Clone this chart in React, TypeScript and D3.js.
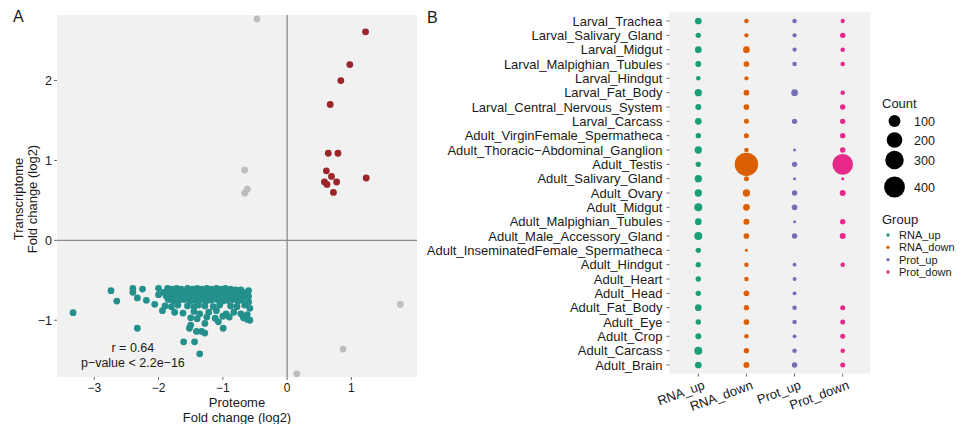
import React, { useEffect, useRef } from 'react';
import * as d3 from 'd3';

// ---- panel A data: proteome vs transcriptome fold change (log2) ----
const upPoints = [
  [1.22, 2.61], [0.975, 2.2], [0.835, 2.0], [0.67, 1.7], [0.64, 1.09], [0.79, 1.09],
  [0.61, 0.87], [0.69, 0.8], [0.58, 0.73], [0.62, 0.7], [0.77, 0.73], [0.72, 0.6], [1.23, 0.78],
];

const otherPoints = [
  [-0.47, 2.77], [-0.66, 0.88], [-0.62, 0.64], [-0.66, 0.59], [1.76, -0.8], [0.87, -1.36], [0.15, -1.67],
];

const downPoints = [
  [-2.4, -0.6], [-2.25, -0.61], [-2.0, -0.6], [-1.86, -0.6], [-1.8, -0.61], [-1.72, -0.6], [-1.65, -0.61],
  [-1.55, -0.6], [-1.47, -0.61], [-1.4, -0.6], [-1.33, -0.61], [-1.25, -0.6], [-1.18, -0.61], [-1.1, -0.6],
  [-1.03, -0.61], [-0.96, -0.6], [-0.88, -0.61], [-0.8, -0.62], [-0.72, -0.62],
  [-2.74, -0.63], [-2.4, -0.65], [-1.92, -0.65], [-1.83, -0.66], [-1.76, -0.64], [-1.69, -0.66], [-1.6, -0.65],
  [-1.52, -0.66], [-1.44, -0.64], [-1.37, -0.66], [-1.3, -0.65], [-1.22, -0.66], [-1.15, -0.64], [-1.07, -0.66],
  [-0.99, -0.65], [-0.92, -0.66], [-0.84, -0.64], [-0.76, -0.66], [-0.68, -0.65], [-0.6, -0.63],
  [-2.0, -0.68], [-1.88, -0.7], [-1.79, -0.71], [-1.71, -0.69], [-1.63, -0.71], [-1.57, -0.7], [-1.49, -0.69],
  [-1.42, -0.71], [-1.35, -0.7], [-1.27, -0.69], [-1.2, -0.71], [-1.12, -0.7], [-1.04, -0.69], [-0.97, -0.71],
  [-0.9, -0.7], [-0.82, -0.69], [-0.74, -0.71], [-0.66, -0.7], [-0.6, -0.7],
  [-2.65, -0.76], [-2.33, -0.72], [-2.19, -0.75], [-1.85, -0.74], [-1.77, -0.76], [-1.68, -0.75], [-1.6, -0.74],
  [-1.51, -0.76], [-1.43, -0.75], [-1.34, -0.74], [-1.26, -0.76], [-1.18, -0.75], [-1.09, -0.74], [-1.0, -0.76],
  [-0.93, -0.75], [-0.85, -0.74], [-0.77, -0.76], [-0.7, -0.75], [-0.6, -0.77],
  [-2.06, -0.8], [-1.9, -0.82], [-1.8, -0.83], [-1.7, -0.81], [-1.55, -0.82], [-1.45, -0.83], [-1.38, -0.81],
  [-1.28, -0.82], [-1.15, -0.83], [-1.05, -0.81], [-0.88, -0.82], [-0.78, -0.83], [-0.66, -0.81], [-0.58, -0.85],
  [-1.94, -0.88], [-1.75, -0.9], [-1.62, -0.91], [-1.45, -0.89], [-1.36, -0.92], [-1.22, -0.9], [-1.1, -0.88],
  [-0.95, -0.92], [-0.83, -0.9], [-0.72, -0.92], [-0.62, -0.93],
  [-1.5, -0.97], [-1.4, -0.98], [-1.25, -0.96], [-1.12, -0.975], [-1.0, -0.95], [-0.9, -0.96], [-0.68, -0.97],
  [-0.62, -0.99], [-0.58, -1.0],
  [-1.5, -1.06], [-1.28, -1.04], [-1.07, -1.02], [-0.995, -1.1], [-1.41, -1.14], [-1.33, -1.14], [-1.28, -1.16],
  [-1.61, -1.27], [-1.44, -1.27], [-1.36, -1.42], [-2.33, -1.1], [-3.33, -0.905], [-1.52, -1.1],
];

const xTicksA = [-3, -2, -1, 0, 1];
const yTicksA = [-1, 0, 1, 2];

// ---- panel B data: counts per tissue and group (null = no dot) ----
const tissues = [
  'Larval_Trachea', 'Larval_Salivary_Gland', 'Larval_Midgut', 'Larval_Malpighian_Tubules', 'Larval_Hindgut',
  'Larval_Fat_Body', 'Larval_Central_Nervous_System', 'Larval_Carcass', 'Adult_VirginFemale_Spermatheca',
  'Adult_Thoracic\u2212Abdominal_Ganglion', 'Adult_Testis', 'Adult_Salivary_Gland', 'Adult_Ovary', 'Adult_Midgut',
  'Adult_Malpighian_Tubules', 'Adult_Male_Accessory_Gland', 'Adult_InseminatedFemale_Spermatheca', 'Adult_Hindgut',
  'Adult_Heart', 'Adult_Head', 'Adult_Fat_Body', 'Adult_Eye', 'Adult_Crop', 'Adult_Carcass', 'Adult_Brain',
];
const groups = ['RNA_up', 'RNA_down', 'Prot_up', 'Prot_down'];
const groupColors = ['#1B9E77', '#D95F02', '#7570B3', '#E7298A'];

const rnaUp = [18, 8, 18, 12, 4, 24, 12, 18, 8, 24, 8, 24, 24, 32, 18, 32, 8, 8, 8, 8, 18, 8, 12, 32, 18];
const rnaDown = [4, 3, 18, 10, 3, 10, 10, 6, 6, 4, 520, 6, 24, 18, 12, 10, 1, 4, 4, 10, 8, 10, 4, 8, 12];
const protUp = [4, 3, 3, 4, null, 18, null, 8, null, 1, 8, 1, 8, 10, 1, 8, null, 2, 2, 2, 4, 4, 2, 4, 8];
const protDown = [3, 8, 4, 4, null, 4, 8, 8, 8, 8, 390, 1, 12, null, 8, 12, null, 4, null, null, 6, 6, 6, 4, 6];

const countBreaks = [100, 200, 300, 400];

const FONT = '"Liberation Sans", Arial, Helvetica, sans-serif';
const PANEL_BG = '#F1F1F1';
const TEXT = '#1a1a1a';

export default function App() {
  const ref = useRef<SVGSVGElement>(null);

  useEffect(() => {
    const svg = d3.select(ref.current);
    svg.selectAll('*').remove();
    svg.style('font-family', FONT);

    // ================= Panel A =================
    const x = d3.scaleLinear().domain([-3.58, 2.02]).range([57, 417]);
    const y = d3.scaleLinear().domain([-1.71, 2.82]).range([377, 15]);
    const [x0, x1] = x.range();
    const [yb, yt] = y.range();

    svg.append('text').attr('x', 13).attr('y', 22).attr('font-size', 16).attr('fill', TEXT).text('A');

    svg.append('rect')
      .attr('x', x0).attr('y', yt)
      .attr('width', x1 - x0).attr('height', yb - yt)
      .attr('fill', PANEL_BG);

    // zero lines
    svg.append('line')
      .attr('x1', x(0)).attr('x2', x(0)).attr('y1', yt).attr('y2', yb)
      .attr('stroke', '#8c8c8c').attr('stroke-width', 1.3);
    svg.append('line')
      .attr('x1', x0).attr('x2', x1).attr('y1', y(0)).attr('y2', y(0))
      .attr('stroke', '#8c8c8c').attr('stroke-width', 1.3);

    const pts = [
      { data: otherPoints, color: '#BDBDBD' },
      { data: upPoints, color: '#9B2529' },
      { data: downPoints, color: '#24908B' },
    ];
    pts.forEach(p => {
      svg.append('g')
        .selectAll('circle')
        .data(p.data)
        .join('circle')
        .attr('cx', d => x(d[0]))
        .attr('cy', d => y(d[1]))
        .attr('r', 3.4)
        .attr('fill', p.color);
    });

    // axes
    const fmt = d3.format('d');
    const xt = svg.append('g');
    xt.selectAll('line').data(xTicksA).join('line')
      .attr('x1', d => x(d)).attr('x2', d => x(d)).attr('y1', yb).attr('y2', yb + 3)
      .attr('stroke', '#444').attr('stroke-width', 0.8);
    xt.selectAll('text').data(xTicksA).join('text')
      .attr('x', d => x(d)).attr('y', yb + 15)
      .attr('text-anchor', 'middle').attr('font-size', 12).attr('fill', TEXT)
      .text(d => fmt(d));

    const yt_ = svg.append('g');
    yt_.selectAll('line').data(yTicksA).join('line')
      .attr('x1', x0 - 3).attr('x2', x0).attr('y1', d => y(d)).attr('y2', d => y(d))
      .attr('stroke', '#444').attr('stroke-width', 0.8);
    yt_.selectAll('text').data(yTicksA).join('text')
      .attr('x', x0 - 5).attr('y', d => y(d) + 4.5)
      .attr('text-anchor', 'end').attr('font-size', 12.5).attr('fill', TEXT)
      .text(d => fmt(d));

    const midX = (x0 + x1) / 2;
    svg.append('text').attr('x', midX).attr('y', 407).attr('text-anchor', 'middle')
      .attr('font-size', 13).attr('fill', TEXT).text('Proteome');
    svg.append('text').attr('x', midX).attr('y', 421.5).attr('text-anchor', 'middle')
      .attr('font-size', 13).attr('fill', TEXT).text('Fold change (log2)');

    const midY = (yt + yb) / 2 + 3;
    svg.append('text').attr('transform', `translate(23,${midY}) rotate(-90)`).attr('text-anchor', 'middle')
      .attr('font-size', 13).attr('fill', TEXT).text('Transcriptome');
    svg.append('text').attr('transform', `translate(37,${midY}) rotate(-90)`).attr('text-anchor', 'middle')
      .attr('font-size', 13).attr('fill', TEXT).text('Fold change (log2)');

    // correlation annotation
    svg.append('text').attr('x', x(-2.4)).attr('y', y(-1.4)).attr('text-anchor', 'middle')
      .attr('font-size', 12.5).attr('fill', TEXT).text('r = 0.64');
    svg.append('text').attr('x', x(-2.4)).attr('y', y(-1.4) + 14.5).attr('text-anchor', 'middle')
      .attr('font-size', 12.5).attr('fill', TEXT).text('p\u2212value < 2.2e\u221216');

    // ================= Panel B =================
    svg.append('text').attr('x', 427).attr('y', 23).attr('font-size', 16).attr('fill', TEXT).text('B');

    const gx = d3.scalePoint().domain(groups).range([698.3, 842.7]);
    const gy = d3.scalePoint().domain(tissues).range([21, 365]);
    const color = d3.scaleOrdinal<string, string>().domain(groups).range(groupColors);

    const step = gx.step();
    const rowStep = gy.step();
    const bx0 = gx.range()[0] - step * 0.6;
    const bx1 = gx.range()[1] + step * 0.57;
    const by0 = gy.range()[0] - rowStep * 0.6;
    const by1 = gy.range()[1] + rowStep * 0.6;

    svg.append('rect')
      .attr('x', bx0).attr('y', by0)
      .attr('width', bx1 - bx0).attr('height', by1 - by0)
      .attr('fill', PANEL_BG);

    const series = [rnaUp, rnaDown, protUp, protDown];
    const cells: { tissue: string; group: string; count: number }[] = [];
    series.forEach((vals, gi) => {
      vals.forEach((v, ti) => {
        if (v != null) cells.push({ tissue: tissues[ti], group: groups[gi], count: v });
      });
    });

    const cMin = d3.min(cells, d => d.count) as number;
    const cMax = d3.max(cells, d => d.count) as number;
    const rLin = d3.scaleLinear().domain([0, 1]).range([1.5, 11.7]);
    const rad = (v: number) => rLin(Math.sqrt((v - cMin) / (cMax - cMin)));

    svg.append('g')
      .selectAll('circle')
      .data(cells)
      .join('circle')
      .attr('cx', d => gx(d.group) as number)
      .attr('cy', d => gy(d.tissue) as number)
      .attr('r', d => rad(d.count))
      .attr('fill', d => color(d.group));

    // y axis
    const ya = svg.append('g');
    ya.selectAll('line').data(tissues).join('line')
      .attr('x1', bx0 - 3).attr('x2', bx0).attr('y1', d => gy(d) as number).attr('y2', d => gy(d) as number)
      .attr('stroke', '#444').attr('stroke-width', 0.8);
    ya.selectAll('text').data(tissues).join('text')
      .attr('x', bx0 - 7).attr('y', d => (gy(d) as number) + 4.5)
      .attr('text-anchor', 'end').attr('font-size', 13).attr('fill', TEXT)
      .text(d => d);

    // x axis
    const xa = svg.append('g');
    xa.selectAll('line').data(groups).join('line')
      .attr('x1', d => gx(d) as number).attr('x2', d => gx(d) as number).attr('y1', by1).attr('y2', by1 + 3)
      .attr('stroke', '#444').attr('stroke-width', 0.8);
    xa.selectAll('text').data(groups).join('text')
      .attr('transform', d => `translate(${(gx(d) as number) + 4},${by1 + 6}) rotate(-20)`)
      .attr('text-anchor', 'end').attr('dominant-baseline', 'hanging')
      .attr('font-size', 13).attr('fill', TEXT)
      .text(d => d);

    // legend: Count
    const lg = svg.append('g');
    lg.append('text').attr('x', 882).attr('y', 108).attr('font-size', 13).attr('fill', TEXT).text('Count');
    const legendRows = [121, 140, 160, 187];
    lg.selectAll('circle').data(countBreaks).join('circle')
      .attr('cx', 894.5)
      .attr('cy', (d, i) => legendRows[i])
      .attr('r', d => rad(d))
      .attr('fill', '#000');
    lg.selectAll('text.lab').data(countBreaks).join('text')
      .attr('class', 'lab')
      .attr('x', 914).attr('y', (d, i) => legendRows[i] + 4.5)
      .attr('font-size', 12.5).attr('fill', TEXT)
      .text(d => d);

    // legend: Group
    const gl = svg.append('g');
    gl.append('text').attr('x', 882).attr('y', 224).attr('font-size', 13).attr('fill', TEXT).text('Group');
    const groupRow = d3.scalePoint().domain(groups).range([235, 272]);
    gl.selectAll('circle').data(groups).join('circle')
      .attr('cx', 888).attr('cy', d => groupRow(d) as number).attr('r', 1.7)
      .attr('fill', d => color(d));
    gl.selectAll('text.item').data(groups).join('text')
      .attr('class', 'item')
      .attr('x', 899).attr('y', d => (groupRow(d) as number) + 4)
      .attr('font-size', 11).attr('fill', TEXT)
      .text(d => d);
  }, []);

  return (
    <svg
      ref={ref}
      width={964}
      height={424}
      style={{ position: 'absolute', left: 0, top: 0, background: '#fff' }}
    />
  );
}
